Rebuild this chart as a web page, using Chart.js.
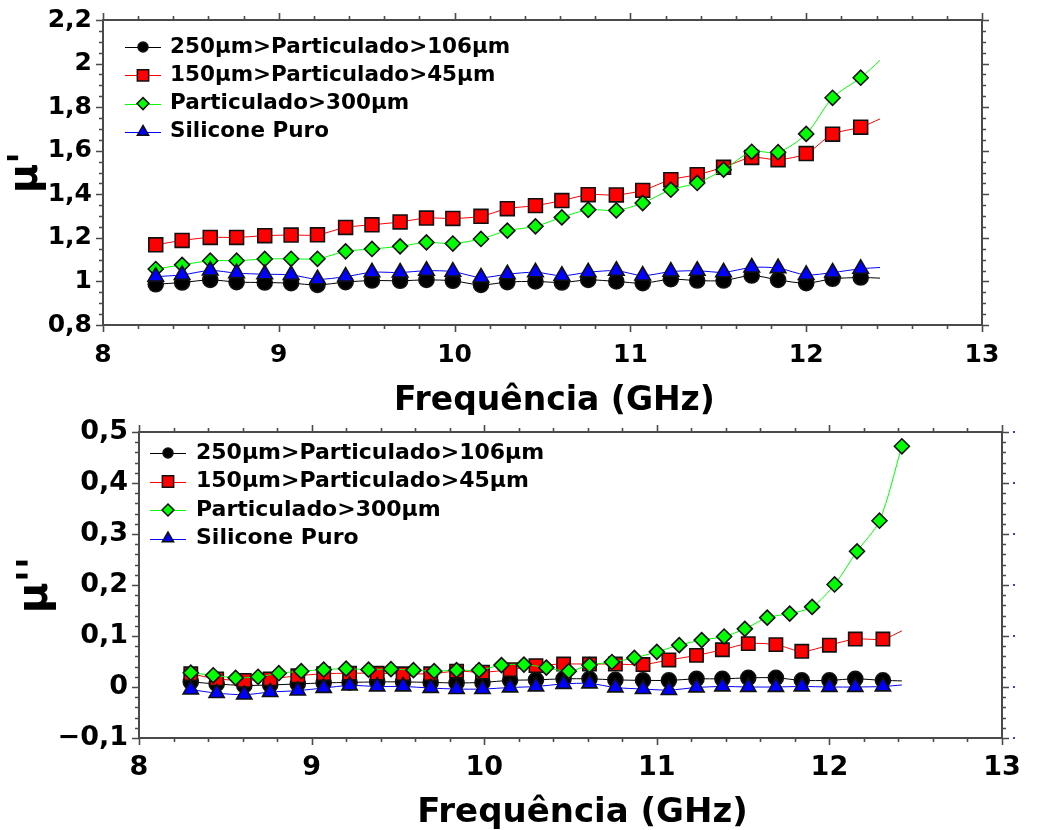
<!DOCTYPE html>
<html><head><meta charset="utf-8">
<script src="https://cdn.jsdelivr.net/npm/chart.js@4.4.1/dist/chart.umd.min.js"></script>
<style>
html,body{margin:0;padding:0;background:#fff;}
.panel{position:absolute;left:0;width:1048px;height:415px;}
canvas{display:block;}
</style></head><body>
<div class="panel" style="top:0"><canvas id="c1" width="1048" height="415"></canvas></div>
<div class="panel" style="top:415px"><canvas id="c2" width="1048" height="415"></canvas></div>
<script>
// ---------- DATA ----------
const seriesLabels = ['250\u00b5m>Particulado>106\u00b5m', '150\u00b5m>Particulado>45\u00b5m', 'Particulado>300\u00b5m', 'Silicone Puro'];
// marker frequencies (GHz); last entry = end of measured curve (no marker)
const freqA = [8.30, 8.45, 8.61, 8.76, 8.92, 9.07, 9.22, 9.38, 9.53, 9.69, 9.84, 9.99, 10.15, 10.30,
  10.46, 10.61, 10.76, 10.92, 11.07, 11.23, 11.38, 11.53, 11.69, 11.84, 12.00, 12.15, 12.31, 12.42];
// marker frequencies for Particulado>300µm in the lower panel
const freqG2 = [8.30, 8.43, 8.56, 8.69, 8.81, 8.94, 9.07, 9.20, 9.33, 9.46, 9.59, 9.71, 9.84, 9.97, 10.10,
  10.23, 10.36, 10.49, 10.61, 10.74, 10.87, 11.00, 11.13, 11.26, 11.39, 11.51, 11.64, 11.77, 11.90,
  12.03, 12.16, 12.29, 12.42];

// mu' (upper panel)
const muP_250 = [0.987, 0.995, 1.007, 0.997, 0.995, 0.992, 0.984, 0.997, 1.004, 1.003, 1.007, 1.003, 0.984, 0.997,
  1.000, 0.995, 1.007, 1.000, 0.992, 1.010, 1.004, 1.004, 1.027, 1.007, 0.992, 1.012, 1.018, 1.015];
const muP_150 = [1.168, 1.188, 1.202, 1.202, 1.210, 1.213, 1.214, 1.248, 1.260, 1.273, 1.291, 1.289, 1.299, 1.334,
  1.348, 1.371, 1.398, 1.397, 1.418, 1.467, 1.490, 1.524, 1.569, 1.559, 1.587, 1.676, 1.708, 1.746];
const muP_300 = [1.057, 1.076, 1.095, 1.095, 1.103, 1.104, 1.104, 1.138, 1.149, 1.161, 1.179, 1.174, 1.195, 1.233,
  1.253, 1.294, 1.329, 1.326, 1.360, 1.421, 1.452, 1.513, 1.595, 1.593, 1.677, 1.843, 1.935, 2.015];
const muP_sil = [1.022, 1.030, 1.050, 1.038, 1.033, 1.030, 1.010, 1.022, 1.042, 1.041, 1.049, 1.045, 1.018, 1.033,
  1.042, 1.026, 1.042, 1.049, 1.027, 1.045, 1.049, 1.042, 1.064, 1.061, 1.030, 1.041, 1.058, 1.064];

// mu'' (lower panel)
const muPP_250 = [0.010, 0.006, 0.003, 0.004, 0.006, 0.008, 0.009, 0.010, 0.010, 0.009, 0.008, 0.009, 0.013, 0.014,
  0.016, 0.016, 0.014, 0.013, 0.013, 0.016, 0.016, 0.018, 0.018, 0.013, 0.013, 0.016, 0.013, 0.012];
const muPP_150 = [0.026, 0.016, 0.013, 0.016, 0.022, 0.026, 0.027, 0.027, 0.026, 0.026, 0.031, 0.029, 0.034, 0.042,
  0.045, 0.045, 0.045, 0.044, 0.053, 0.062, 0.073, 0.085, 0.083, 0.070, 0.082, 0.094, 0.094, 0.110];
const muPP_300 = [0.028, 0.023, 0.018, 0.020, 0.027, 0.031, 0.034, 0.036, 0.034, 0.035, 0.033, 0.031, 0.033, 0.033,
  0.043, 0.044, 0.038, 0.031, 0.043, 0.049, 0.057, 0.069, 0.082, 0.092, 0.099, 0.114, 0.136, 0.144, 0.157,
  0.201, 0.266, 0.326, 0.472];
const muPP_sil = [-0.005, -0.012, -0.015, -0.010, -0.007, -0.002, 0.003, 0.001, 0.001, -0.002, -0.004, -0.004, -0.001, 0.001,
  0.006, 0.007, -0.001, -0.004, -0.006, -0.001, 0.001, 0.000, 0.000, 0.001, 0.000, 0.000, 0.001, 0.004];

// ---------- STYLE ----------
const FONT = "'DejaVu Sans', Verdana, sans-serif";
const colors = ['#000000', '#ff0000', '#00ff00', '#0000ff'];
const styles = ['circle', 'rect', 'rectRot', 'triangle'];
const orders = [4, 3, 2, 1];

function pts(xs, ys) { return ys.map((v, i) => ({x: xs[i], y: v})); }
function fmt(v) {
  const r = Math.round(v * 10) / 10;
  return String(r).replace('.', ',').replace('-', '\u2212');
}

function makeDatasets(seriesX, seriesY, markerCounts, radii) {
  return seriesY.map((ys, i) => ({
    label: seriesLabels[i],
    data: pts(seriesX[i], ys),
    borderColor: colors[i],
    backgroundColor: colors[i],
    borderWidth: 1,
    tension: 0.3,
    pointStyle: styles[i],
    pointBackgroundColor: colors[i],
    pointBorderColor: '#111',
    pointBorderWidth: 1.6,
    pointRadius: c => c.dataIndex < markerCounts[i] ? radii[i] : 0,
    pointHoverRadius: 0,
    order: orders[i]
  }));
}

const deco = {
  id: 'deco',
  beforeDatasetsDraw(chart, args, o) {
    const {ctx, chartArea: a, scales: {x, y}} = chart;
    ctx.save();
    ctx.strokeStyle = '#4a4a4a';
    ctx.lineWidth = 1.6;
    ctx.beginPath();
    const nx = Math.round((x.max - x.min) / o.xMinor);
    for (let i = 0; i <= nx; i++) {
      const v = x.min + i * o.xMinor;
      const q = v / o.xMajor;
      const L = Math.abs(q - Math.round(q)) < 1e-6 ? 7 : 4;
      const px = Math.round(x.getPixelForValue(v)) + 0.5;
      ctx.moveTo(px, a.bottom); ctx.lineTo(px, a.bottom + L);
      ctx.moveTo(px, a.top); ctx.lineTo(px, a.top - L);
    }
    const ny = Math.round((y.max - y.min) / o.yMinor);
    for (let i = 0; i <= ny; i++) {
      const v = y.min + i * o.yMinor;
      const q = v / o.yMajor;
      const L = Math.abs(q - Math.round(q)) < 1e-6 ? 7 : 4;
      const py = Math.round(y.getPixelForValue(v)) + 0.5;
      ctx.moveTo(a.left - L, py); ctx.lineTo(a.left, py);
      ctx.moveTo(a.right, py); ctx.lineTo(a.right + L, py);
    }
    ctx.stroke();
    ctx.lineWidth = 2;
    ctx.strokeRect(a.left, a.top, a.right - a.left, a.bottom - a.top);
    if (o.rightDots) {
      ctx.fillStyle = '#3b3bd6';
      for (let i = 0; i <= ny; i++) {
        const v = y.min + i * o.yMinor;
        const q = v / o.yMajor;
        if (Math.abs(q - Math.round(q)) < 1e-6) {
          ctx.fillRect(a.right + 11, Math.round(y.getPixelForValue(v)) - 1, 2, 2);
        }
      }
    }
    ctx.restore();
  },
  afterDraw(chart, args, o) {
    const {ctx, chartArea: a} = chart;
    ctx.save();
    // axis titles
    ctx.fillStyle = '#000';
    ctx.font = 'bold ' + o.titleSize + 'px ' + FONT;
    ctx.textAlign = 'center';
    ctx.textBaseline = 'alphabetic';
    ctx.fillText(o.xTitle, (a.left + a.right) / 2 + o.xTitleDX, o.xTitleY);
    ctx.save();
    ctx.font = 'bold ' + o.yTitleSize + 'px ' + FONT;
    ctx.translate(o.yTitleX, (a.top + a.bottom) / 2);
    ctx.rotate(-Math.PI / 2);
    ctx.textBaseline = 'middle';
    ctx.fillText(o.yTitle, 0, 0);
    ctx.restore();
    // legend
    chart.data.datasets.forEach((ds, i) => {
      const yy = a.top + o.legY0 + i * o.legDY;
      ctx.strokeStyle = ds.borderColor;
      ctx.lineWidth = 1;
      ctx.beginPath();
      ctx.moveTo(a.left + o.legL0, Math.round(yy) + 0.5);
      ctx.lineTo(a.left + o.legL1, Math.round(yy) + 0.5);
      ctx.stroke();
      ctx.fillStyle = ds.pointBackgroundColor;
      ctx.strokeStyle = '#111';
      ctx.lineWidth = 1.5;
      Chart.helpers.drawPoint(ctx, {pointStyle: ds.pointStyle, radius: o.legR[i], rotation: 0, borderWidth: 1.5},
        a.left + (o.legL0 + o.legL1) / 2, yy);
      ctx.fillStyle = '#000';
      ctx.font = 'bold ' + o.legSize + 'px ' + FONT;
      ctx.textAlign = 'left';
      ctx.textBaseline = 'middle';
      ctx.fillText(ds.label, a.left + o.legT, yy);
    });
    ctx.restore();
  }
};

function scales(cfg) {
  return {
    x: {
      type: 'linear', min: 8, max: 13,
      grid: {display: false, drawTicks: false}, border: {display: false},
      ticks: {stepSize: 1, color: '#000', padding: cfg.xPad, font: {family: FONT, size: cfg.tickSize, weight: 'bold'},
        callback: v => fmt(v)},
      afterFit: s => { s.height = cfg.xH; s.paddingLeft = 0; s.paddingRight = 0; s.paddingTop = 0; s.paddingBottom = 0; }
    },
    y: {
      type: 'linear', min: cfg.yMin, max: cfg.yMax,
      grid: {display: false, drawTicks: false}, border: {display: false},
      ticks: {stepSize: cfg.yStep, color: '#000', padding: 11, font: {family: FONT, size: cfg.tickSize, weight: 'bold'},
        callback: v => fmt(v)},
      afterFit: s => { s.width = cfg.yW; s.paddingLeft = 0; s.paddingRight = 0; s.paddingTop = 0; s.paddingBottom = 0; }
    }
  };
}

function build(id, datasets, cfg, decoOpts) {
  return new Chart(document.getElementById(id), {
    type: 'line',
    data: {datasets},
    options: {
      responsive: false, animation: false, devicePixelRatio: 1,
      layout: {autoPadding: false, padding: {top: cfg.padTop, right: cfg.padRight, left: 0, bottom: 0}},
      plugins: {legend: {display: false}, tooltip: {enabled: false}, deco: decoOpts},
      scales: scales(cfg)
    },
    plugins: [deco]
  });
}

build('c1',
  makeDatasets([freqA, freqA, freqA, freqA], [muP_250, muP_150, muP_300, muP_sil], [27, 27, 27, 27], [7.5, 9.8, 7.5, 9]),
  {padTop: 20, padRight: 66, xH: 90, yW: 103, yMin: 0.8, yMax: 2.2, yStep: 0.2, tickSize: 25, xPad: 15},
  {xMinor: 0.2, xMajor: 1, yMinor: 0.05, yMajor: 0.2, rightDots: false,
   xTitle: 'Frequ\u00eancia (GHz)', titleSize: 33, xTitleDX: 12, xTitleY: 410,
   yTitle: "\u00b5'", yTitleSize: 40, yTitleX: 27,
   legY0: 27, legDY: 28.3, legL0: 22, legL1: 58, legT: 67, legSize: 21.5, legR: [5, 8, 6, 6.5]});

build('c2',
  makeDatasets([freqA, freqA, freqG2, freqA], [muPP_250, muPP_150, muPP_300, muPP_sil], [27, 27, 33, 27], [7.5, 9.4, 7.5, 8.8]),
  {padTop: 17, padRight: 46, xH: 92, yW: 139, yMin: -0.1, yMax: 0.5, yStep: 0.1, tickSize: 27, xPad: 14},
  {xMinor: 0.2, xMajor: 1, yMinor: 0.02, yMajor: 0.1, rightDots: true,
   xTitle: 'Frequ\u00eancia (GHz)', titleSize: 34, xTitleDX: 12, xTitleY: 407,
   yTitle: "\u00b5''", yTitleSize: 42, yTitleX: 36,
   legY0: 21, legDY: 28.5, legL0: 11, legL1: 47, legT: 57, legSize: 22, legR: [5, 8, 6, 6.5]});
</script>
</body></html>
